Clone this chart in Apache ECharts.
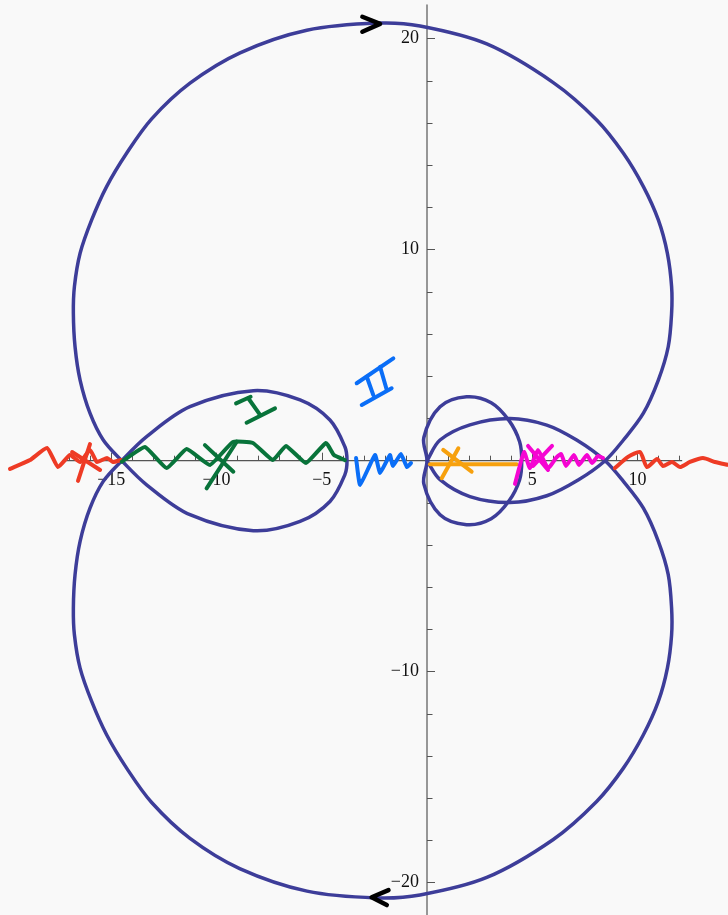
<!DOCTYPE html>
<html>
<head>
<meta charset="utf-8">
<script src="https://cdn.jsdelivr.net/npm/echarts@6/dist/echarts.min.js"></script>
<style>
  html, body { margin: 0; padding: 0; background: #f9f9f9; }
  #main { width: 728px; height: 915px; }
</style>
</head>
<body>
<div id="main"></div>
<script>
// nyquist curve (re, im), in order of travel
var wideUpper = [[0, 0], [0.62, 0.98], [2.04, 1.7], [3.94, 2.0], [5.69, 1.69], [7.11, 0.98]];
var bigLower = [[8.46, 0], [9.33, -0.98], [10.28, -2.25], [10.99, -3.82], [11.46, -5.4], [11.62, -6.99],
  [11.62, -8.25], [11.42, -9.83], [10.99, -11.41], [10.28, -12.99], [9.33, -14.57], [8.06, -16.15],
  [6.0, -17.95], [2.84, -19.75], [-0.33, -20.58], [-2.4, -20.72], [-5.7, -20.4], [-8.9, -19.33],
  [-11.26, -17.9], [-13.08, -16.2], [-14.27, -14.57], [-15.22, -12.99], [-15.93, -11.41],
  [-16.48, -9.83], [-16.75, -8.25], [-16.8, -6.99], [-16.72, -5.4], [-16.48, -3.82], [-16.01, -2.25],
  [-15.38, -0.98]];
var leftLoop = [[-14.5, 0], [-13.32, 1.14], [-11.26, 2.56], [-8.25, 3.32], [-6.03, 2.88], [-4.61, 1.93],
  [-3.9, 0.66], [-3.8, 0], [-3.9, -0.66], [-4.61, -1.93], [-6.03, -2.88], [-8.25, -3.32],
  [-11.26, -2.56], [-13.32, -1.14]];
var bigUpper = [[-14.5, 0], [-15.38, 0.98], [-16.01, 2.25], [-16.48, 3.82], [-16.72, 5.4], [-16.8, 6.99],
  [-16.75, 8.25], [-16.48, 9.83], [-15.93, 11.41], [-15.22, 12.99], [-14.27, 14.57], [-13.08, 16.2],
  [-11.26, 17.89], [-8.88, 19.33], [-5.71, 20.4], [-2.3, 20.74], [-0.33, 20.6], [2.84, 19.75],
  [6.0, 17.92], [8.06, 16.15], [9.33, 14.57], [10.28, 12.99], [10.99, 11.41], [11.42, 9.83],
  [11.62, 8.25], [11.62, 6.99], [11.46, 5.4], [10.99, 3.82], [10.28, 2.25], [9.33, 0.98]];
var wideLower = [[8.46, 0], [7.2, -0.9], [5.69, -1.66], [3.94, -1.98], [2.04, -1.7], [0.62, -0.9], [0, 0]];
var smallLoop = [[0, 0], [-0.15, 1.1], [0.62, 2.56], [1.88, 3.03], [3.05, 2.75], [3.9, 1.9], [4.4, 0.9],
  [4.5, 0], [4.4, -0.9], [3.9, -1.9], [3.05, -2.75], [1.88, -3.03], [0.62, -2.56], [-0.15, -1.1], [0, 0]];

// direction chevrons
var arrowTop = [[-3.07, 21.04], [-2.23, 20.7], [-3.07, 20.33]];
var arrowBottom = [[-1.83, -20.35], [-2.63, -20.69], [-1.91, -21.06]];

// hand drawn marks
var redLeft = [[-19.81, -0.39], [-18.86, 0.03], [-18.05, 0.6], [-17.53, -0.3], [-16.96, 0.27],
  [-16.48, -0.06], [-16.01, 0.51], [-15.68, -0.06], [-15.2, 0.13], [-14.92, -0.06], [-14.54, 0.03]];
var redCross1 = [[-16.01, 0.79], [-16.58, -0.96]];
var redCross2 = [[-16.86, 0.41], [-15.53, -0.44]];
var redRight = [[8.93, -0.35], [9.55, 0.18], [10.12, 0.41], [10.45, -0.3], [10.93, 0.08], [11.21, -0.25],
  [11.64, -0.06], [12.02, -0.3], [12.49, -0.06], [13.11, 0.13], [13.68, -0.06], [14.3, -0.2]];
var greenWave = [[-14.5, -0.05], [-13.4, 0.65], [-12.37, -0.35], [-11.42, 0.55], [-10.31, -0.2],
  [-9.22, 0.89], [-8.27, 0.84], [-7.32, 0.03], [-6.7, 0.7], [-5.75, -0.11], [-4.8, 0.84],
  [-4.42, 0.27], [-3.9, 0.03]];
var greenCross1 = [[-9.04, 0.9], [-10.47, -1.31]];
var greenCross2 = [[-10.55, 0.74], [-9.2, -0.52]];
var greenI = [[[-9.07, 2.72], [-8.38, 3.03]], [[-8.49, 2.96], [-7.93, 2.17]], [[-8.57, 1.8], [-7.22, 2.48]]];
var blueII = [[[-3.34, 3.67], [-1.6, 4.85]], [[-2.86, 3.98], [-2.55, 3.11]], [[-2.23, 4.45], [-1.91, 3.35]],
  [[-3.1, 2.64], [-1.68, 3.43]]];
var blueWave = [[-3.37, 0.13], [-3.18, -1.15], [-2.47, 0.27], [-2.23, -0.58], [-1.76, 0.27],
  [-1.62, -0.25], [-1.24, 0.32], [-0.95, -0.3], [-0.76, -0.11]];
var orangeLine = [[0.14, -0.17], [4.26, -0.17]];
var orangeCross1 = [[0.77, 0.51], [2.12, -0.52]];
var orangeCross2 = [[1.49, 0.59], [0.7, -0.83]];
var magentaWave = [[4.18, -1.1], [4.61, 0.41], [4.89, -0.35], [5.27, 0.51], [5.75, -0.35], [6.13, 0.13],
  [6.37, 0.32], [6.6, -0.25], [6.98, 0.27], [7.22, -0.2], [7.6, 0.27], [7.84, -0.11], [8.12, 0.22], [8.36, 0.13]];
var magentaCross1 = [[4.8, 0.7], [5.75, -0.44]];
var magentaCross2 = [[5.94, 0.7], [5.04, -0.25]];

// axes: [min, max, step]
var axisLineX = [[-17.3, 0], [12.1, 0]];
var axisLineY = [[0, -21.6], [0, 21.6]];
var xMinor = [-17, 12, 1];
var xMajor = [-15, 10, 5];
var yMinor = [-20, 20, 2];
var yMajor = [-20, 20, 10];
var xView = [-20.28, 14.3];
var yView = [-21.5, 21.8];

// pixel layout: origin and pixels per unit
var X0 = 427, Y0 = 460.7, SX = 21.05, SY = 21.1, W = 728, H = 915;

function gridFor(xr, yr) {
  return {
    left: X0 + xr[0] * SX,
    right: W - (X0 + xr[1] * SX),
    top: Y0 - yr[1] * SY,
    bottom: H - (Y0 - yr[0] * SY),
    containLabel: false,
    outerBoundsMode: 'none'
  };
}

function fmt(v) {
  if (v === 0) return '';
  return v < 0 ? '\u2212' + (-v) : '' + v;
}

function dist(u, v) {
  return Math.sqrt((u[0] - v[0]) * (u[0] - v[0]) + (u[1] - v[1]) * (u[1] - v[1]));
}

// smooth bezier through the pixel points, handles weighted by segment length; s = 0 gives straight segments
function buildPath(p, s, closed) {
  var n = p.length, hin = [], hout = [], i;
  for (i = 0; i < n; i++) {
    var a = i > 0 ? p[i - 1] : (closed ? p[n - 2] : p[i]);
    var c = i < n - 1 ? p[i + 1] : (closed ? p[1] : p[i]);
    var b = p[i];
    var l0 = dist(a, b), l1 = dist(b, c), sum = (l0 + l1) || 1;
    var vx = c[0] - a[0], vy = c[1] - a[1];
    hout.push([b[0] + vx * s * l1 / sum, b[1] + vy * s * l1 / sum]);
    hin.push([b[0] - vx * s * l0 / sum, b[1] - vy * s * l0 / sum]);
  }
  var out = 'M' + p[0][0] + ' ' + p[0][1];
  for (i = 0; i < n - 1; i++) {
    out += ' C' + hout[i][0] + ' ' + hout[i][1] + ' ' + hin[i + 1][0] + ' ' + hin[i + 1][1] +
      ' ' + p[i + 1][0] + ' ' + p[i + 1][1];
  }
  return out;
}

function stroke(points, color, width, s, closed, z) {
  return {
    type: 'custom', coordinateSystem: 'cartesian2d', xAxisIndex: 2, yAxisIndex: 3,
    data: points, silent: true, z: z, clip: false,
    renderItem: function (params, api) {
      if (params.dataIndex !== 0) return null;
      var px = points.map(function (d) { return api.coord(d); });
      return {
        type: 'path',
        shape: { pathData: buildPath(px, s, closed) },
        style: { fill: 'none', stroke: color, lineWidth: width, lineCap: 'round', lineJoin: 'round' }
      };
    }
  };
}

var labelFont = { color: '#111', fontFamily: 'Liberation Serif', fontSize: 18 };
var tickColor = '#555';
var blue = '#3d3d99', red = '#ee3b25', green = '#08733a', sky = '#0a6ef7', orange = '#f7a10e', pink = '#f505d2';
var curve = wideUpper.concat(bigLower, leftLoop, bigUpper, wideLower);

var series = [
  stroke(axisLineX, tickColor, 1.2, 0, false, 1),
  stroke(axisLineY, tickColor, 1.2, 0, false, 1),
  stroke(curve, blue, 3.5, 1 / 3, false, 3),
  stroke(smallLoop, blue, 3.5, 1 / 3, true, 3),
  stroke(arrowTop, '#000', 4.5, 0, false, 4),
  stroke(arrowBottom, '#000', 4.5, 0, false, 4),
  stroke(redLeft, red, 4, 0.15, false, 5),
  stroke(redCross1, red, 4, 0, false, 5),
  stroke(redCross2, red, 4, 0, false, 5),
  stroke(redRight, red, 4, 0.2, false, 5),
  stroke(greenWave, green, 4, 0.12, false, 5),
  stroke(greenCross1, green, 4, 0, false, 5),
  stroke(greenCross2, green, 4, 0, false, 5),
  stroke(blueWave, sky, 4, 0.12, false, 5),
  stroke(orangeLine, orange, 4, 0, false, 5),
  stroke(orangeCross1, orange, 4, 0, false, 5),
  stroke(orangeCross2, orange, 4, 0, false, 5),
  stroke(magentaWave, pink, 4, 0.15, false, 5),
  stroke(magentaCross1, pink, 4, 0, false, 5),
  stroke(magentaCross2, pink, 4, 0, false, 5)
];
greenI.forEach(function (seg) { series.push(stroke(seg, green, 4, 0, false, 5)); });
blueII.forEach(function (seg) { series.push(stroke(seg, sky, 4, 0, false, 5)); });

// axes sit on zero through an offset from the grid edge
var xOffset = yMinor[0] * SY;
var yOffset = xMinor[0] * SX;

var myChart = echarts.init(document.getElementById('main'));
myChart.setOption({
  backgroundColor: '#f9f9f9',
  animation: false,
  grid: [gridFor(xMinor, yMinor), gridFor(xMajor, yMinor), gridFor(xView, yView)],
  xAxis: [
    {
      gridIndex: 0, type: 'value', position: 'bottom', offset: xOffset,
      min: xMinor[0], max: xMinor[1], interval: xMinor[2],
      axisLine: { show: false, onZero: false },
      axisTick: { inside: true, length: 5, lineStyle: { color: tickColor } },
      axisLabel: { show: false }, splitLine: { show: false }
    },
    {
      gridIndex: 1, type: 'value', position: 'bottom', offset: xOffset,
      min: xMajor[0], max: xMajor[1], interval: xMajor[2],
      axisLine: { show: false, onZero: false },
      axisTick: { inside: true, length: 8, lineStyle: { color: tickColor } },
      axisLabel: Object.assign({ formatter: fmt, margin: 11 }, labelFont),
      splitLine: { show: false }
    },
    { gridIndex: 2, type: 'value', min: xView[0], max: xView[1], show: false }
  ],
  yAxis: [
    {
      gridIndex: 0, type: 'value', position: 'left', offset: yOffset,
      min: yMinor[0], max: yMinor[1], interval: yMinor[2],
      axisLine: { show: false, onZero: false },
      axisTick: { inside: true, length: 5.5, lineStyle: { color: tickColor } },
      axisLabel: { show: false }, splitLine: { show: false }
    },
    {
      gridIndex: 0, type: 'value', position: 'left', offset: yOffset,
      min: yMajor[0], max: yMajor[1], interval: yMajor[2],
      axisLine: { show: false, onZero: false },
      axisTick: { inside: true, length: 8, lineStyle: { color: tickColor } },
      axisLabel: Object.assign({ formatter: fmt, margin: 8 }, labelFont),
      splitLine: { show: false }
    },
    { gridIndex: 1, type: 'value', min: yMinor[0], max: yMinor[1], show: false },
    { gridIndex: 2, type: 'value', min: yView[0], max: yView[1], show: false }
  ],
  series: series
});
</script>
</body>
</html>
